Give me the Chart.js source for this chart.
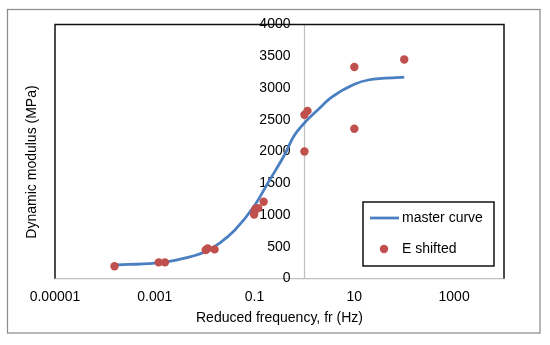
<!DOCTYPE html>
<html>
<head>
<meta charset="utf-8">
<script src="https://cdn.jsdelivr.net/npm/chart.js@4.4.0/dist/chart.umd.min.js"></script>
<style>
  html, body { margin: 0; padding: 0; background: #fff; }
  #wrap { width: 550px; height: 345px; }
</style>
</head>
<body>
<div id="wrap"><canvas id="chart" width="550" height="345"></canvas></div>
<script>
// master curve
const curveFreq = [0.000156, 0.001, 0.003, 0.01, 0.02, 0.04, 0.1, 0.2, 0.4, 0.6, 1, 2, 3.3, 10, 20, 100];
const curveModulus = [215, 245, 300, 420, 560, 760, 1150, 1550, 1950, 2230, 2450, 2680, 2840, 3060, 3130, 3170];

// measured points, shifted
const shiftedFreq = [0.000156, 0.0012, 0.0016, 0.0105, 0.0115, 0.0158, 0.098, 0.1, 0.105, 0.118, 0.152, 1.0, 1.15, 1.0, 10, 10, 100];
const shiftedModulus = [195, 255, 255, 450, 475, 460, 1010, 1060, 1100, 1110, 1210, 2580, 2640, 2000, 3330, 2360, 3450];

const xTickValues = [0.00001, 0.001, 0.1, 10, 1000];
const xTickLabels = ['0.00001', '0.001', '0.1', '10', '1000'];

// the vertical axis crosses the horizontal one at fr = 1 Hz
const yAxisCrossing = 1;
// labels sit a bit left of that line (chart.js ignores ticks.padding for axes placed by value)
const yLabelAnchor = 0.525;

const FONT = 'Liberation Sans, Arial, sans-serif';

// frame, plot border, y axis line, y title and legend drawn by hand
const decorPlugin = {
    id: 'decor',
    beforeDatasetsDraw(chart) {
        const ctx = chart.ctx;
        const a = chart.chartArea;
        const xPix = Math.round(chart.scales.x.getPixelForValue(yAxisCrossing)) + 0.5;
        ctx.save();
        ctx.strokeStyle = '#bfbfbf';
        ctx.lineWidth = 1.25;
        ctx.beginPath();
        ctx.moveTo(xPix, a.top);
        ctx.lineTo(xPix, a.bottom);
        ctx.stroke();
        ctx.restore();
    },
    afterDraw(chart) {
        const ctx = chart.ctx;
        const a = chart.chartArea;
        ctx.save();

        // outer frame
        ctx.strokeStyle = '#8c8c8c';
        ctx.lineWidth = 1.25;
        ctx.strokeRect(7.5, 9.5, 532.5, 323.5);

        // plot area border (left, top, right)
        ctx.strokeStyle = '#111';
        ctx.lineWidth = 1.5;
        ctx.beginPath();
        ctx.moveTo(a.left, a.bottom);
        ctx.lineTo(a.left, a.top);
        ctx.lineTo(a.right, a.top);
        ctx.lineTo(a.right, a.bottom);
        ctx.stroke();

        // y title
        ctx.fillStyle = '#000';
        ctx.font = '14px ' + FONT;
        ctx.textAlign = 'center';
        ctx.textBaseline = 'middle';
        ctx.translate(32, 162);
        ctx.rotate(-Math.PI / 2);
        ctx.fillText('Dynamic modulus (MPa)', 0, 0);
        ctx.setTransform(1, 0, 0, 1, 0, 0);

        // legend
        const ds = chart.data.datasets;
        ctx.fillStyle = '#fff';
        ctx.fillRect(363, 202, 131, 64);
        ctx.strokeStyle = '#111';
        ctx.lineWidth = 1.5;
        ctx.strokeRect(363, 202, 131, 64);

        ctx.strokeStyle = ds[0].borderColor;
        ctx.lineWidth = ds[0].borderWidth;
        ctx.beginPath();
        ctx.moveTo(370, 218);
        ctx.lineTo(399, 218);
        ctx.stroke();

        ctx.fillStyle = ds[1].backgroundColor;
        ctx.beginPath();
        ctx.arc(384, 249, ds[1].pointRadius, 0, Math.PI * 2);
        ctx.fill();

        ctx.fillStyle = '#000';
        ctx.textAlign = 'left';
        ctx.fillText(ds[0].label, 402, 218);
        ctx.fillText(ds[1].label, 402, 249);
        ctx.restore();
    }
};

new Chart(document.getElementById('chart'), {
    type: 'line',
    data: {
        datasets: [{
            label: 'master curve',
            data: curveFreq.map((f, i) => ({ x: f, y: curveModulus[i] })),
            borderColor: '#4a7fc1',
            borderWidth: 2.75,
            pointRadius: 0,
            cubicInterpolationMode: 'monotone',
            fill: false,
            order: 1
        }, {
            label: 'E shifted',
            data: shiftedFreq.map((f, i) => ({ x: f, y: shiftedModulus[i] })),
            showLine: false,
            backgroundColor: '#c0504d',
            borderColor: '#c0504d',
            borderWidth: 0,
            pointRadius: 4.2,
            order: 0
        }]
    },
    options: {
        responsive: false,
        devicePixelRatio: 1,
        animation: false,
        layout: { padding: { left: 55, top: 24.5, right: 46, bottom: 8.3 } },
        plugins: { legend: { display: false }, tooltip: { enabled: false } },
        scales: {
            x: {
                type: 'logarithmic',
                position: 'bottom',
                min: 0.00001,
                max: 10000,
                grid: { display: false, drawTicks: false },
                border: { color: '#bfbfbf', width: 1.25 },
                afterBuildTicks: (scale) => {
                    scale.ticks = xTickValues.map(v => ({ value: v }));
                },
                ticks: {
                    autoSkip: false,
                    maxRotation: 0,
                    padding: 10,
                    color: '#000',
                    font: { family: FONT, size: 14 },
                    callback: (value, index) => xTickLabels[index]
                },
                title: {
                    display: true,
                    text: 'Reduced frequency, fr (Hz)',
                    color: '#000',
                    font: { family: FONT, size: 14 },
                    padding: { top: -5.8, bottom: 10.3 }
                }
            },
            y: {
                type: 'linear',
                position: { x: yLabelAnchor },
                min: 0,
                max: 4000,
                grid: { display: false, drawTicks: false },
                border: { display: false },
                ticks: {
                    stepSize: 500,
                    color: '#000',
                    font: { family: FONT, size: 14 },
                    callback: (value) => String(value)
                }
            }
        }
    },
    plugins: [decorPlugin]
});
</script>
</body>
</html>
